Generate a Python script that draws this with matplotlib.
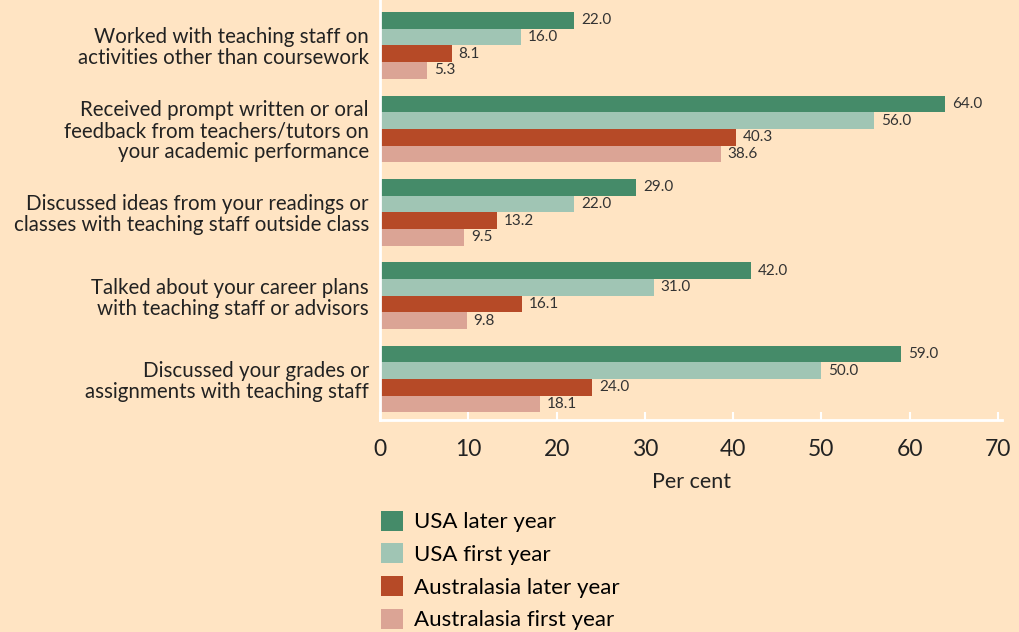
import numpy as np
import matplotlib.pyplot as plt
from matplotlib.patches import Patch

categorias = [
    "Worked with teaching staff on\nactivities other than coursework",
    "Received prompt written or oral\nfeedback from teachers/tutors on\nyour academic performance",
    "Discussed ideas from your readings or\nclasses with teaching staff outside class",
    "Talked about your career plans\nwith teaching staff or advisors",
    "Discussed your grades or\nassignments with teaching staff",
]
series = ["USA later year", "USA first year", "Australasia later year", "Australasia first year"]
usa_later = [22.0, 64.0, 29.0, 42.0, 59.0]
usa_first = [16.0, 56.0, 22.0, 31.0, 50.0]
aus_later = [8.1, 40.3, 13.2, 16.1, 24.0]
aus_first = [5.3, 38.6, 9.5, 9.8, 18.1]
colores = ["#458B69", "#A0C5B4", "#B64A27", "#DBA495"]

fondo = "#FFE4C3"
plt.rcParams["font.family"] = ["Lato", "DejaVu Sans"]

fig = plt.figure(figsize=(10.19, 6.32), dpi=100, facecolor=fondo)
ax = fig.add_axes([380 / 1019, (632 - 420) / 632, (1002 - 380) / 1019, 420 / 632])
ax.set_facecolor(fondo)

y = np.arange(len(categorias))
h = 0.2
for i, (vals, col) in enumerate(zip([usa_later, usa_first, aus_later, aus_first], colores)):
    pos = y - 0.3 + i * h
    ax.barh(pos, vals, height=h, color=col, label=series[i])
    for p, v in zip(pos, vals):
        ax.annotate(f"{v:.1f}", (v, p), xytext=(5, 0), textcoords="offset points",
                    ha="left", va="center", fontsize=11, color="#333333")

ax.set_ylim(4.49, -0.545)
ax.set_xlim(0, 70.45)
ax.set_xticks(range(0, 80, 10))
ax.set_yticks(y)
ax.set_yticklabels(categorias, fontsize=14.8, color="#222222", linespacing=1.05)
ax.tick_params(axis="y", length=0, pad=8)
ax.tick_params(axis="x", direction="in", length=6, width=1.5, color="white",
               labelsize=16.5, labelcolor="#222222", pad=14)
for lado in ["top", "right"]:
    ax.spines[lado].set_visible(False)
ax.spines["bottom"].set_color("white")
ax.spines["bottom"].set_linewidth(2)
ax.spines["left"].set_color("white")
ax.spines["left"].set_linewidth(2)
ax.set_xlabel("Per cent", fontsize=15.5, color="#222222", labelpad=8)

handles = [Patch(facecolor=c, label=s) for c, s in zip(colores, series)]
fig.legend(handles=handles, loc="upper left", bbox_to_anchor=(363 / 1019, 1 - 493 / 632),
           frameon=False, fontsize=16, handlelength=1.0, handleheight=1.0,
           labelspacing=0.5, handletextpad=0.5, borderpad=0.3)

fig.savefig("out.png", dpi=100, facecolor=fondo)
